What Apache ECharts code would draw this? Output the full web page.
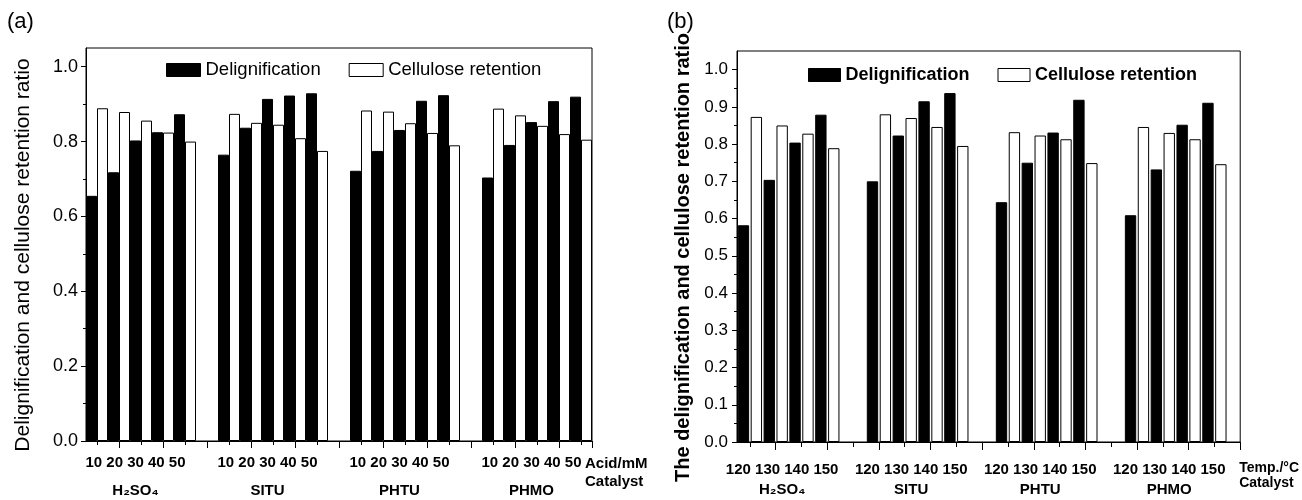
<!DOCTYPE html>
<html>
<head>
<meta charset="utf-8">
<title>Delignification and cellulose retention</title>
<script src="https://cdn.jsdelivr.net/npm/echarts@6/dist/echarts.min.js"></script>
<style>
    html, body { margin: 0; padding: 0; background: #fff; }
    #main { width: 1302px; height: 500px; }
</style>
</head>
<body>
<div id="main"></div>
<script>
var FONT = '"Liberation Sans", Arial, Helvetica, sans-serif';

// catalysts
var catalysts = ['H₂SO₄', 'SITU', 'PHTU', 'PHMO'];

// (a) acid loading, mM
var acidTicks = ['10', '20', '30', '40', '50'];
var delignAcid = [
    [0.655, 0.718, 0.803, 0.825, 0.873],
    [0.765, 0.837, 0.914, 0.923, 0.929],
    [0.722, 0.775, 0.831, 0.909, 0.924],
    [0.704, 0.791, 0.852, 0.908, 0.920]
];
var celluAcid = [
    [0.889, 0.879, 0.856, 0.824, 0.800],
    [0.874, 0.850, 0.845, 0.809, 0.775],
    [0.883, 0.880, 0.849, 0.823, 0.790],
    [0.888, 0.870, 0.842, 0.820, 0.805]
];

// (b) temperature, °C
var tempTicks = ['120', '130', '140', '150'];
var delignTemp = [
    [0.582, 0.704, 0.804, 0.879],
    [0.700, 0.823, 0.915, 0.937],
    [0.644, 0.750, 0.831, 0.919],
    [0.609, 0.732, 0.852, 0.911]
];
var celluTemp = [
    [0.873, 0.850, 0.828, 0.789],
    [0.880, 0.870, 0.846, 0.795],
    [0.832, 0.823, 0.813, 0.749],
    [0.846, 0.830, 0.813, 0.746]
];

// y ticks
var yMajorA = [0, 0.2, 0.4, 0.6, 0.8, 1.0];
var yMinorA = [0.1, 0.3, 0.5, 0.7, 0.9];
var yMajorB = [0, 0.1, 0.2, 0.3, 0.4, 0.5, 0.6, 0.7, 0.8, 0.9, 1.0];
var yMinorB = [0.05, 0.15, 0.25, 0.35, 0.45, 0.55, 0.65, 0.75, 0.85, 0.95];

// every bar gets its own half-slot: black, white, black, white ...
// two empty half-slots between catalysts, "tail" empty ones at the end
// the tick text and catalyst name sit under half-slot "labelAt" of each group
function buildSlots(ticks, delig, cellu, labelAt, tail) {
    var s = {ids: [], labels: [], groups: [], black: [], white: []};
    function push(b, w) {
        s.ids.push('s' + s.ids.length);
        s.labels.push('');
        s.groups.push('');
        s.black.push(b);
        s.white.push(w);
    }
    catalysts.forEach(function (cat, g) {
        if (g > 0) { push(null, null); push(null, null); }
        var start = s.ids.length;
        ticks.forEach(function (t, j) {
            push(delig[g][j], null);
            push(null, cellu[g][j]);
        });
        s.labels[start + labelAt] = ticks.join(' ');
        s.groups[start + labelAt] = cat;
    });
    for (var k = 0; k < tail; k++) push(null, null);
    return s;
}

var slotsA = buildSlots(acidTicks, delignAcid, celluAcid, 4, 0);
var slotsB = buildSlots(tempTicks, delignTemp, celluTemp, 3, 1);

function xAxes(gi, slots, cfg) {
    return [{
        type: 'category',
        gridIndex: gi,
        position: 'bottom',
        data: slots.ids,
        boundaryGap: true,
        axisLine: {show: true, onZero: false, lineStyle: {color: '#000', width: 1}},
        axisTick: {
            show: true, length: cfg.minorLen, lineStyle: {color: '#000'},
            interval: function (i) { return i % 2 === 1; }
        },
        axisLabel: {
            interval: 0, margin: cfg.labelMargin, color: '#000',
            fontWeight: 'bold', fontSize: 15, fontFamily: FONT,
            formatter: function (v, i) { return slots.labels[i]; }
        },
        splitLine: {show: false},
        name: cfg.name,
        nameLocation: 'end',
        nameGap: cfg.nameGap,
        nameMoveOverlap: false,
        nameTextStyle: {
            color: '#000', fontWeight: 'bold', fontSize: cfg.nameSize, fontFamily: FONT,
            lineHeight: cfg.nameLine, align: 'left', verticalAlign: 'top',
            padding: [cfg.namePad, 0, 0, 0]
        }
    }, {
        type: 'category',
        gridIndex: gi,
        position: 'bottom',
        data: slots.ids,
        boundaryGap: true,
        axisLine: {show: false},
        axisTick: {
            show: true, length: cfg.majorLen, lineStyle: {color: '#000'},
            interval: function (i) { return i % 4 === 3; }
        },
        axisLabel: {
            interval: 0, margin: cfg.groupMargin, color: '#000',
            fontWeight: 'bold', fontSize: 15, fontFamily: FONT,
            formatter: function (v, i) { return slots.groups[i]; }
        },
        splitLine: {show: false}
    }];
}

function yAxes(gi, major, minor, cfg) {
    return [{
        type: 'value',
        gridIndex: gi,
        position: 'left',
        min: 0,
        max: 1.05,
        axisLine: {show: true, lineStyle: {color: '#000', width: 1}},
        axisTick: {show: true, inside: false, length: 5, customValues: major, lineStyle: {color: '#000'}},
        axisLabel: {
            customValues: major, margin: cfg.labelMargin, color: '#000',
            fontSize: cfg.labelSize, fontFamily: FONT,
            formatter: function (v) { return v.toFixed(1); }
        },
        splitLine: {show: false},
        name: cfg.name,
        nameLocation: 'middle',
        nameGap: cfg.nameGap,
        nameTextStyle: {
            color: '#000', fontSize: cfg.nameSize, fontWeight: cfg.nameWeight,
            fontFamily: FONT, padding: [0, cfg.nameShift, 0, 0]
        }
    }, {
        type: 'value',
        gridIndex: gi,
        position: 'left',
        min: 0,
        max: 1.05,
        axisLine: {show: false},
        axisLabel: {show: false},
        splitLine: {show: false},
        axisTick: {show: true, inside: false, length: 3, customValues: minor, lineStyle: {color: '#000'}}
    }];
}

function bar(name, data, xi, yi, fill, gap) {
    return {
        name: name,
        type: 'bar',
        xAxisIndex: xi,
        yAxisIndex: yi,
        data: data,
        barGap: '-100%',
        barCategoryGap: gap,
        itemStyle: {color: fill, borderColor: '#000', borderWidth: 1},
        emphasis: {disabled: true}
    };
}

var blackIcon = {color: '#000', borderColor: '#000', borderWidth: 1};
var whiteIcon = {color: '#fff', borderColor: '#000', borderWidth: 1};

var myChart = echarts.init(document.getElementById('main'));
myChart.setOption({
    animation: false,
    backgroundColor: '#fff',
    title: [
        {text: '(a)', left: 7, top: 11, padding: 0,
            textStyle: {fontSize: 22, fontWeight: 'normal', color: '#000', fontFamily: FONT}},
        {text: '(b)', left: 667, top: 11, padding: 0,
            textStyle: {fontSize: 22, fontWeight: 'normal', color: '#000', fontFamily: FONT}}
    ],
    legend: [{
        left: 166, top: 60, padding: 0, itemWidth: 34, itemHeight: 13, itemGap: 28,
        icon: 'rect', selectedMode: false,
        textStyle: {fontSize: 18.5, color: '#000', fontFamily: FONT, lineHeight: 20},
        data: [{name: 'Delignification', itemStyle: blackIcon},
               {name: 'Cellulose retention', itemStyle: whiteIcon}]
    }, {
        left: 808, top: 65, padding: 0, itemWidth: 32, itemHeight: 13, itemGap: 28,
        icon: 'rect', selectedMode: false,
        textStyle: {fontSize: 18, fontWeight: 'bold', color: '#000', fontFamily: FONT, lineHeight: 20},
        data: [{name: 'Delignification', itemStyle: blackIcon},
               {name: 'Cellulose retention', itemStyle: whiteIcon}]
    }],
    grid: [
        {left: 86, top: 48, width: 506, height: 393, show: true, borderColor: '#000', borderWidth: 1},
        {left: 737, top: 51, width: 506, height: 391, show: true, borderColor: '#000', borderWidth: 1}
    ],
    xAxis: xAxes(0, slotsA, {
        minorLen: 4, majorLen: 7, labelMargin: 14, groupMargin: 42,
        name: 'Acid/mM\nCatalyst', nameGap: -7, nameSize: 15, nameLine: 18, namePad: 14
    }).concat(xAxes(1, slotsB, {
        minorLen: 5, majorLen: 8, labelMargin: 20, groupMargin: 40,
        name: 'Temp./°C\nCatalyst', nameGap: -1, nameSize: 14, nameLine: 15, namePad: 19
    })),
    yAxis: yAxes(0, yMajorA, yMinorA, {
        labelMargin: 8, labelSize: 18,
        name: 'Delignification and cellulose retention ratio',
        nameGap: 52, nameSize: 21, nameWeight: 'normal', nameShift: 21
    }).concat(yAxes(1, yMajorB, yMinorB, {
        labelMargin: 9, labelSize: 17,
        name: 'The delignification and cellulose retention ratio',
        nameGap: 44, nameSize: 20, nameWeight: 'bold', nameShift: 22
    })),
    series: [
        bar('Delignification', slotsA.black, 0, 0, '#000', '0%'),
        bar('Cellulose retention', slotsA.white, 0, 0, '#fff', '0%'),
        bar('Delignification', slotsB.black, 2, 2, '#000', '12%'),
        bar('Cellulose retention', slotsB.white, 2, 2, '#fff', '12%')
    ]
});
</script>
</body>
</html>
